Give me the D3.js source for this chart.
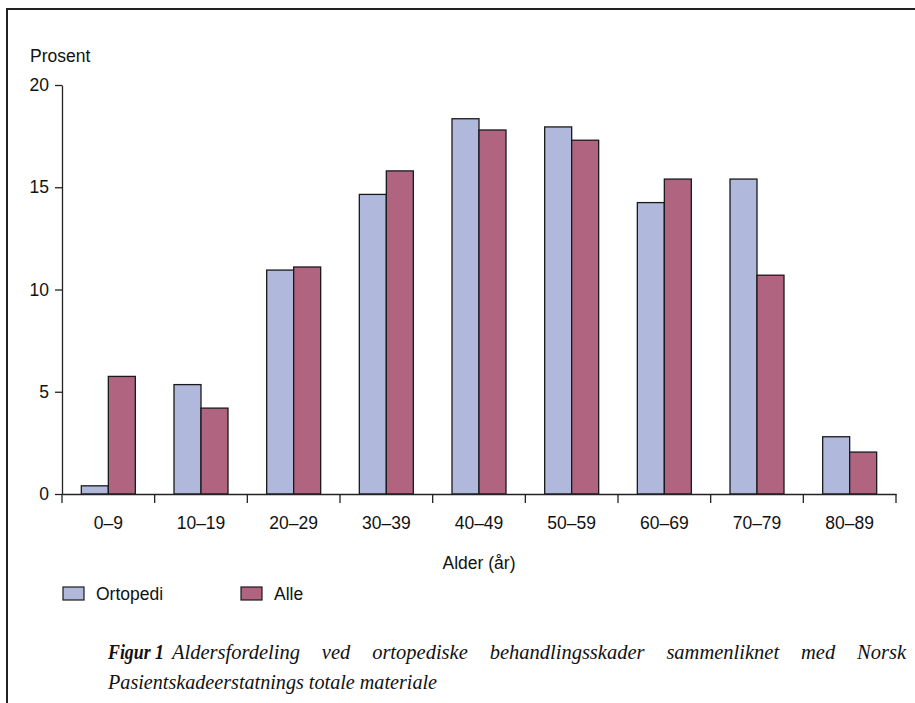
<!DOCTYPE html>
<html><head><meta charset="utf-8">
<script src="https://cdn.jsdelivr.net/npm/d3@7"></script>
<style>body{margin:0;background:#fff}svg{display:block}</style>
</head><body>
<svg id="c" width="915" height="703"></svg>
<script>
const categories = ["0–9","10–19","20–29","30–39","40–49","50–59","60–69","70–79","80–89"];
const ortopedi = [0.4,5.35,10.95,14.65,18.35,17.95,14.25,15.4,2.8];
const alle = [5.75,4.2,11.1,15.8,17.8,17.3,15.4,10.7,2.05];
const seriesNames = ["Ortopedi","Alle"];
const seriesColors = ["#b0b8dc","#b06480"];
const yTicks = [0,5,10,15,20];

const svg = d3.select("#c");
const font = "'Liberation Sans', Arial, sans-serif";
const fs = 17.5;

// frame
svg.append("path").attr("d","M7,703 V9 H915").attr("fill","none").attr("stroke","#222").attr("stroke-width",2);

const x0 = 62, x1 = 896, yBottom = 494, yTop = 85;
const x = d3.scaleBand().domain(categories).range([x0,x1]).paddingInner(0).paddingOuter(0);
const y = d3.scaleLinear().domain([0,20]).range([yBottom,yTop]);
const xs = d3.scaleBand().domain(seriesNames).range([0,54]);

const data = categories.map((c,i)=>({c, vals:[ortopedi[i], alle[i]]}));
const g = svg.append("g");
data.forEach(d=>{
  d.vals.forEach((v,j)=>{
    const bx = x(d.c) + x.bandwidth()/2 - 27 + xs(seriesNames[j]);
    g.append("rect").attr("x",bx).attr("y",y(v)).attr("width",xs.bandwidth()).attr("height",yBottom-y(v))
      .attr("fill",seriesColors[j]).attr("stroke","#1a1a1a").attr("stroke-width",1.3);
  });
});

// y axis
const ya = svg.append("g").attr("transform",`translate(${x0},0)`)
  .call(d3.axisLeft(y).tickValues(yTicks).tickSize(7).tickPadding(6).tickSizeOuter(0));
ya.select(".domain").attr("stroke","#222").attr("stroke-width",1.3);
ya.selectAll(".tick line").attr("stroke","#222").attr("stroke-width",1.3);
ya.selectAll("text").attr("font-family",font).attr("font-size",fs).attr("fill","#111");

// x axis
const xa = svg.append("g").attr("transform",`translate(0,${yBottom})`)
  .call(d3.axisBottom(x).tickSize(0).tickPadding(23).tickSizeOuter(0));
xa.select(".domain").attr("stroke","#222").attr("stroke-width",1.3);
xa.selectAll("text").attr("font-family",font).attr("font-size",fs).attr("fill","#111");
const bounds = categories.map(c=>x(c)).concat([x1]);
xa.selectAll(".bt").data(bounds).join("line").attr("class","bt")
  .attr("x1",d=>d).attr("x2",d=>d).attr("y1",0).attr("y2",9).attr("stroke","#222").attr("stroke-width",1.3);

svg.append("text").attr("x",30).attr("y",62).attr("font-family",font).attr("font-size",fs).attr("fill","#111").text("Prosent");
svg.append("text").attr("x",(x0+x1)/2).attr("y",569).attr("text-anchor","middle").attr("font-family",font).attr("font-size",fs).attr("fill","#111").text("Alder (år)");

// legend
const legX = [63,241];
seriesNames.forEach((s,i)=>{
  svg.append("rect").attr("x",legX[i]).attr("y",587).attr("width",21).attr("height",13)
    .attr("fill",seriesColors[i]).attr("stroke","#1a1a1a").attr("stroke-width",1.2);
  svg.append("text").attr("x",legX[i]+33).attr("y",600).attr("font-family",font).attr("font-size",fs).attr("fill","#111").text(s);
});

// caption
const serif = "'Liberation Serif','Times New Roman',serif";
const cf = 20.5;
svg.append("text").attr("x",108).attr("y",659).attr("font-family",serif).attr("font-size",cf)
  .attr("font-style","italic").attr("font-weight","bold").attr("fill","#111")
  .attr("textLength",56).attr("lengthAdjust","spacingAndGlyphs").text("Figur 1");
const words = "Aldersfordeling ved ortopediske behandlingsskader sammenliknet med Norsk".split(" ");
const tmp = svg.append("g").attr("font-family",serif).attr("font-size",cf).attr("font-style","italic");
const widths = words.map(w=>{const t=tmp.append("text").text(w); const wd=t.node().getComputedTextLength(); t.remove(); return wd;});
tmp.remove();
const startX = 172, endX = 906;
const gap = (endX - startX - d3.sum(widths)) / (words.length-1);
let cx = startX;
words.forEach((w,i)=>{
  svg.append("text").attr("x",cx).attr("y",659).attr("font-family",serif).attr("font-size",cf)
    .attr("font-style","italic").attr("fill","#111").text(w);
  cx += widths[i] + gap;
});
svg.append("text").attr("x",108).attr("y",689).attr("font-family",serif).attr("font-size",cf)
  .attr("font-style","italic").attr("fill","#111")
  .attr("textLength",329).attr("lengthAdjust","spacingAndGlyphs").text("Pasientskadeerstatnings totale materiale");
</script>
</body></html>
